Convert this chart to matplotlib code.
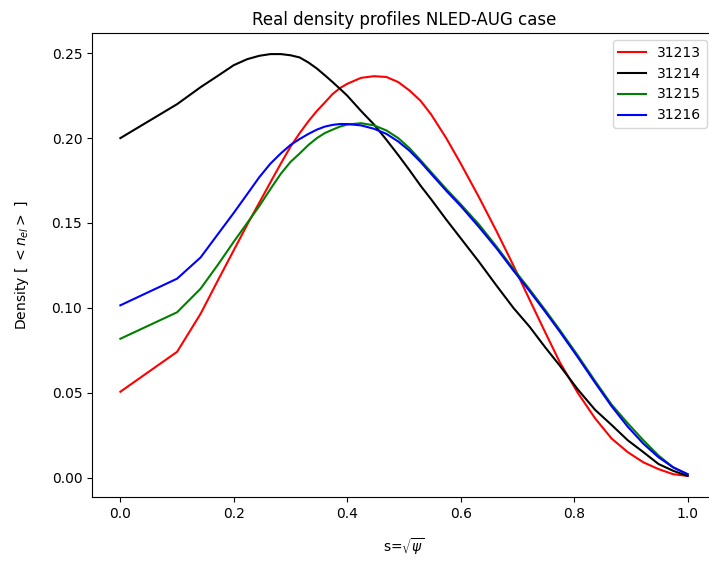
import numpy as np
import matplotlib
matplotlib.use("Agg")
import matplotlib.pyplot as plt

# radial grid: samples are taken in psi, plotted against s = sqrt(psi)
psi = [0.00, 0.01, 0.02, 0.03, 0.04, 0.05, 0.06, 0.07, 0.08, 0.09,
       0.10, 0.11, 0.12, 0.13, 0.14, 0.15, 0.16, 0.18, 0.20, 0.22,
       0.24, 0.26, 0.28, 0.30, 0.33, 0.36, 0.40, 0.44, 0.48, 0.52,
       0.56, 0.60, 0.65, 0.70, 0.75, 0.80, 0.85, 0.90, 0.95, 1.00]

shots = ["31213", "31214", "31215", "31216"]
colors = ["r", "k", "g", "b"]

ne_31213 = [0.0506, 0.0741, 0.0965, 0.117, 0.134, 0.149, 0.162, 0.174, 0.185, 0.195,
            0.203, 0.210, 0.216, 0.221, 0.226, 0.2295, 0.232, 0.2355, 0.2365, 0.236,
            0.233, 0.228, 0.222, 0.214, 0.200, 0.185, 0.165, 0.145, 0.125, 0.105,
            0.086, 0.068, 0.050, 0.035, 0.023, 0.015, 0.009, 0.005, 0.002, 0.001]
ne_31214 = [0.200, 0.220, 0.230, 0.237, 0.243, 0.2465, 0.2485, 0.2495, 0.2495, 0.2488,
            0.2475, 0.2445, 0.241, 0.237, 0.233, 0.229, 0.225, 0.216, 0.208, 0.199,
            0.190, 0.181, 0.172, 0.164, 0.152, 0.141, 0.127, 0.113, 0.100, 0.089,
            0.077, 0.066, 0.052, 0.040, 0.031, 0.022, 0.015, 0.008, 0.004, 0.001]
ne_31215 = [0.0818, 0.0974, 0.1113, 0.126, 0.139, 0.150, 0.160, 0.170, 0.179, 0.186,
            0.191, 0.196, 0.200, 0.203, 0.205, 0.2068, 0.208, 0.2088, 0.2075, 0.2045,
            0.200, 0.194, 0.187, 0.180, 0.170, 0.161, 0.149, 0.136, 0.123, 0.111,
            0.099, 0.087, 0.072, 0.057, 0.043, 0.032, 0.022, 0.013, 0.006, 0.002]
ne_31216 = [0.1015, 0.1172, 0.1297, 0.144, 0.156, 0.167, 0.177, 0.185, 0.191, 0.196,
            0.1995, 0.2025, 0.205, 0.2068, 0.2078, 0.2083, 0.2083, 0.2075, 0.2055, 0.2025,
            0.198, 0.1925, 0.186, 0.179, 0.169, 0.160, 0.1475, 0.135, 0.122, 0.110,
            0.098, 0.086, 0.071, 0.056, 0.042, 0.030, 0.020, 0.012, 0.006, 0.002]

profiles = [ne_31213, ne_31214, ne_31215, ne_31216]
s = np.sqrt(psi)

fig = plt.figure(figsize=(7.09, 5.61), dpi=100)
ax = fig.add_axes([92 / 709, 1 - 497 / 561, 624 / 709, 464 / 561])

for shot, col, ne in zip(shots, colors, profiles):
    ax.plot(s, ne, color=col, label=shot)

ax.set_title("Real density profiles NLED-AUG case")
ax.set_xlabel(r"s=$\sqrt{\psi}$", labelpad=11)
ax.set_ylabel(r"Density [ $<n_{el}>$ ]", labelpad=15)
ax.legend(loc="upper right", bbox_to_anchor=(707 / 709, 1 - 40 / 561),
          bbox_transform=fig.transFigure, borderaxespad=0)

fig.savefig("out.png", dpi=100)
